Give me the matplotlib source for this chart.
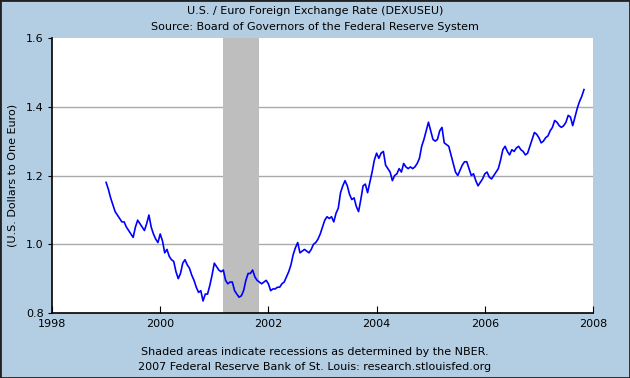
"""U.S. / Euro exchange rate (DEXUSEU), FRED-style chart."""

import matplotlib

matplotlib.use("Agg")
import matplotlib.pyplot as plt
import numpy as np

# Semi-monthly readings (1st and 15th of each month), Jan 1999 .. Nov 2007
start_year = 1999.0
rate_1999 = [1.180, 1.160, 1.135, 1.115, 1.095, 1.085, 1.075, 1.065, 1.065, 1.050, 1.040, 1.030,
             1.020, 1.050, 1.070, 1.060, 1.050, 1.040, 1.060, 1.085, 1.050, 1.030, 1.015, 1.005]
rate_2000 = [1.030, 1.010, 0.975, 0.985, 0.965, 0.955, 0.950, 0.920, 0.900, 0.915, 0.945, 0.955,
             0.940, 0.930, 0.910, 0.895, 0.875, 0.860, 0.865, 0.835, 0.855, 0.855, 0.880, 0.910]
rate_2001 = [0.945, 0.935, 0.925, 0.920, 0.925, 0.895, 0.885, 0.890, 0.890, 0.865, 0.855, 0.846,
             0.850, 0.865, 0.895, 0.915, 0.915, 0.925, 0.905, 0.895, 0.890, 0.885, 0.890, 0.895]
rate_2002 = [0.885, 0.865, 0.870, 0.870, 0.875, 0.875, 0.885, 0.890, 0.905, 0.920, 0.940, 0.970,
             0.990, 1.005, 0.975, 0.980, 0.985, 0.980, 0.975, 0.985, 1.000, 1.005, 1.015, 1.030]
rate_2003 = [1.050, 1.070, 1.080, 1.075, 1.080, 1.065, 1.090, 1.105, 1.150, 1.170, 1.185, 1.170,
             1.145, 1.130, 1.135, 1.110, 1.095, 1.130, 1.170, 1.175, 1.150, 1.180, 1.210, 1.245]
rate_2004 = [1.265, 1.250, 1.265, 1.270, 1.230, 1.220, 1.210, 1.185, 1.200, 1.205, 1.220, 1.210,
             1.235, 1.225, 1.220, 1.225, 1.220, 1.225, 1.235, 1.250, 1.285, 1.305, 1.330, 1.355]
rate_2005 = [1.330, 1.305, 1.300, 1.305, 1.330, 1.340, 1.295, 1.290, 1.285, 1.260, 1.235, 1.210,
             1.200, 1.215, 1.230, 1.240, 1.240, 1.220, 1.200, 1.205, 1.185, 1.170, 1.180, 1.190]
rate_2006 = [1.205, 1.210, 1.195, 1.190, 1.200, 1.210, 1.220, 1.245, 1.275, 1.285, 1.270, 1.260,
             1.275, 1.270, 1.280, 1.285, 1.275, 1.270, 1.260, 1.265, 1.285, 1.305, 1.325, 1.320]
rate_2007 = [1.310, 1.295, 1.300, 1.310, 1.315, 1.330, 1.340, 1.360, 1.355, 1.345, 1.340, 1.345,
             1.355, 1.375, 1.370, 1.345, 1.370, 1.395, 1.415, 1.430, 1.450]

recession_start = 2001.17
recession_end = 2001.83

x_ticks = [1998, 2000, 2002, 2004, 2006, 2008]
y_ticks = [0.8, 1.0, 1.2, 1.4, 1.6]

BG = "#B3CDE3"

rate = np.array(rate_1999 + rate_2000 + rate_2001 + rate_2002 + rate_2003
                + rate_2004 + rate_2005 + rate_2006 + rate_2007)
years = start_year + np.arange(len(rate)) / 24.0

fig = plt.figure(figsize=(6.3, 3.78), dpi=100, facecolor=BG)
fig.patches.append(plt.Rectangle((0, 0), 1, 1, transform=fig.transFigure,
                                 fill=False, edgecolor="#222222", linewidth=2))
ax = fig.add_axes([52 / 630, 65 / 378, 541 / 630, 275 / 378])
ax.set_facecolor("white")

ax.axvspan(recession_start, recession_end, color="#BEBEBE", zorder=1, linewidth=0)
for y in [1.0, 1.2, 1.4]:
    ax.axhline(y, color="#AAAAAA", linewidth=1, zorder=0.5)
ax.plot(years, rate, color="#0000FF", linewidth=1.2, zorder=3)

ax.set_xlim(1998, 2008)
ax.set_ylim(0.8, 1.6)
ax.set_xticks(x_ticks)
ax.set_xticklabels([str(t) for t in x_ticks])
ax.set_yticks(y_ticks)
ax.set_yticklabels([f"{t:.1f}" for t in y_ticks])
ax.tick_params(axis="x", direction="in", length=5, labelsize=8, pad=4, color="black")
ax.tick_params(axis="y", direction="out", length=3, labelsize=8, pad=3, color="black")
for side in ["top", "right"]:
    ax.spines[side].set_visible(False)
for side in ["left", "bottom"]:
    ax.spines[side].set_linewidth(1.2)

ax.set_ylabel("(U.S. Dollars to One Euro)", fontsize=8, labelpad=6)

fig.text(0.5, 1 - 11 / 378, "U.S. / Euro Foreign Exchange Rate (DEXUSEU)",
         ha="center", va="center", fontsize=8)
fig.text(0.5, 1 - 27 / 378, "Source: Board of Governors of the Federal Reserve System",
         ha="center", va="center", fontsize=8)
fig.text(0.5, 1 - 352 / 378, "Shaded areas indicate recessions as determined by the NBER.",
         ha="center", va="center", fontsize=8)
fig.text(0.5, 1 - 367 / 378, "2007 Federal Reserve Bank of St. Louis: research.stlouisfed.org",
         ha="center", va="center", fontsize=8)

fig.savefig("out.png", dpi=100, facecolor=BG)
